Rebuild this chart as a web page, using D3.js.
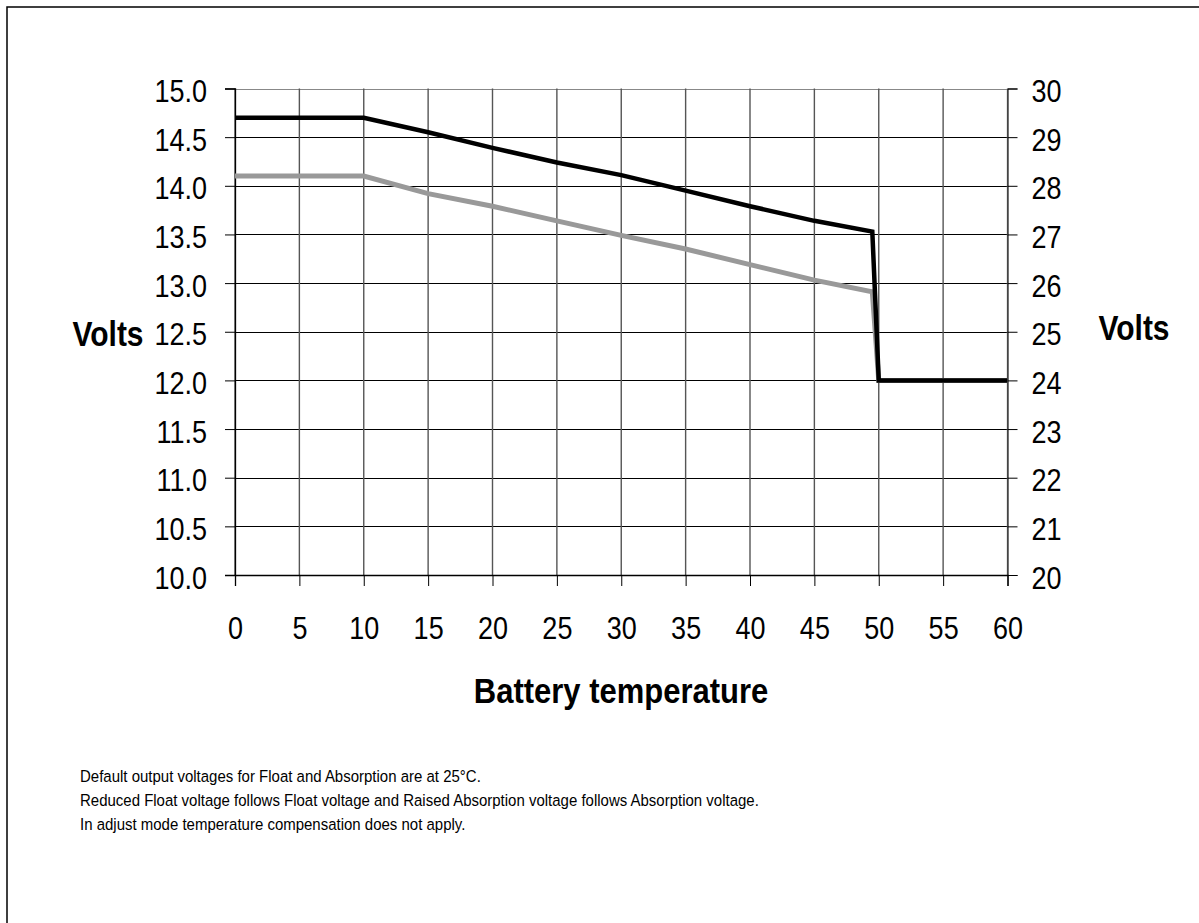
<!doctype html>
<html lang="en">
<head>
    <meta charset="UTF-8">
    <title>Battery temperature compensation</title>
    <style>
        html, body {
            margin: 0;
            padding: 0;
            background: #fff;
        }
        svg {
            display: block;
            font-family: "Liberation Sans", Arial, sans-serif;
        }
        .axis path, .axis line {
            stroke: #000;
        }
    </style>
</head>
<body>
<svg id="chart" width="1199" height="923"></svg>

<script src="https://d3js.org/d3.v7.min.js"></script>
<script>
  // values
  const temps      = [0, 10, 15, 20, 25, 30, 35, 40, 45, 49.5, 50, 60]
  const absorption = [14.7, 14.7, 14.55, 14.39, 14.24, 14.11, 13.95, 13.79, 13.64, 13.53, 12.0, 12.0]
  const floatV     = [14.1, 14.1, 13.92, 13.79, 13.64, 13.49, 13.35, 13.19, 13.03, 12.91, 12.0, 12.0]

  const xTicks      = [0, 5, 10, 15, 20, 25, 30, 35, 40, 45, 50, 55, 60]
  const leftTicks   = [10, 10.5, 11, 11.5, 12, 12.5, 13, 13.5, 14, 14.5, 15]
  const rightTicks  = [20, 21, 22, 23, 24, 25, 26, 27, 28, 29, 30]

  const notes = [
    'Default output voltages for Float and Absorption are at 25\u00B0C.',
    'Reduced Float voltage follows Float voltage and Raised Absorption voltage follows Absorption voltage.',
    'In adjust mode temperature compensation does not apply.'
  ]

  const plot = { left: 235, right: 1007.5, top: 88.5, bottom: 575 }
  const stretch = 1.15   // the source text is a bit taller than it is wide

  const x = d3.scaleLinear().domain([0, 60]).range([plot.left, plot.right])
  const y = d3.scaleLinear().domain([10, 15]).range([plot.bottom, plot.top])
  const y2 = d3.scaleLinear().domain([20, 30]).range([plot.bottom, plot.top])

  const svg = d3.select('#chart')

  // outer frame (runs off the right and bottom edge)
  svg.append('rect')
    .attr('x', 7).attr('y', 7)
    .attr('width', 1230).attr('height', 960)
    .attr('fill', 'none')
    .attr('stroke', '#000')
    .attr('stroke-width', 1.5)

  // grid
  const grid = svg.append('g')
  grid.selectAll('line.h')
    .data(leftTicks)
    .join('line')
    .attr('class', 'h')
    .attr('x1', plot.left).attr('x2', plot.right)
    .attr('y1', d => Math.round(y(d)) + 0.5).attr('y2', d => Math.round(y(d)) + 0.5)
    .attr('stroke', d => d === 15 ? '#888' : '#000')
    .attr('stroke-width', 1.2)

  grid.selectAll('line.v')
    .data(xTicks)
    .join('line')
    .attr('class', 'v')
    .attr('x1', d => x(d)).attr('x2', d => x(d))
    .attr('y1', plot.top).attr('y2', plot.bottom)
    .attr('stroke', d => d === 60 ? '#888' : '#555')
    .attr('stroke-width', 1.4)

  const fmt = d3.format('.1f')

  // left axis
  const gl = svg.append('g')
    .attr('class', 'axis')
    .attr('transform', `translate(${plot.left},0)`)
    .call(d3.axisLeft(y).tickValues(leftTicks).tickFormat(fmt).tickSize(10).tickPadding(18))
  gl.select('.domain').attr('stroke-width', 1.3)

  // right axis
  const gr = svg.append('g')
    .attr('class', 'axis')
    .attr('transform', `translate(${plot.right},0)`)
    .call(d3.axisRight(y2).tickValues(rightTicks).tickSize(10).tickPadding(14))
  gr.select('.domain').attr('stroke', '#666')

  // bottom axis
  const gb = svg.append('g')
    .attr('class', 'axis')
    .attr('transform', `translate(0,${plot.bottom})`)
    .call(d3.axisBottom(x).tickValues(xTicks).tickSize(11).tickPadding(14))
  gb.select('.domain').attr('stroke-width', 1.3)

  svg.selectAll('.axis text')
    .attr('font-family', '"Liberation Sans", Arial, sans-serif')
    .attr('font-size', 27)
    .attr('fill', '#000')

  // stretch tick labels vertically around their own anchor
  gl.selectAll('text').attr('dy', '0.36em')
    .attr('transform', `translate(0,2) scale(1,${stretch})`)
  gr.selectAll('text').attr('dy', '0.36em')
    .attr('transform', `translate(0,2) scale(1,${stretch})`)
  gb.selectAll('text')
    .attr('y', 0).attr('dy', 0)
    .attr('transform', `translate(0,64) scale(1,${stretch})`)

  // lines
  const line = d3.line()
    .x(d => x(d[0]))
    .y(d => y(d[1]))

  svg.append('path')
    .attr('d', line(d3.zip(temps, floatV)))
    .attr('fill', 'none')
    .attr('stroke', '#999')
    .attr('stroke-width', 5)

  svg.append('path')
    .attr('d', line(d3.zip(temps, absorption)))
    .attr('fill', 'none')
    .attr('stroke', '#000')
    .attr('stroke-width', 4.5)

  // axis titles
  function title(tx, ty, size, txt) {
    svg.append('text')
      .attr('transform', `translate(${tx},${ty}) scale(1,${stretch})`)
      .attr('text-anchor', 'middle')
      .attr('font-size', size).attr('font-weight', 'bold')
      .text(txt)
  }
  title(108, 346, 30, 'Volts')
  title(1134, 340, 30, 'Volts')
  title(621, 703, 31, 'Battery temperature')

  // footnotes
  svg.append('g')
    .selectAll('text')
    .data(notes)
    .join('text')
    .attr('transform', (d, i) => `translate(80,${782 + i * 24}) scale(1,1.1)`)
    .attr('font-size', 15)
    .text(d => d)
</script>
</body>
</html>
